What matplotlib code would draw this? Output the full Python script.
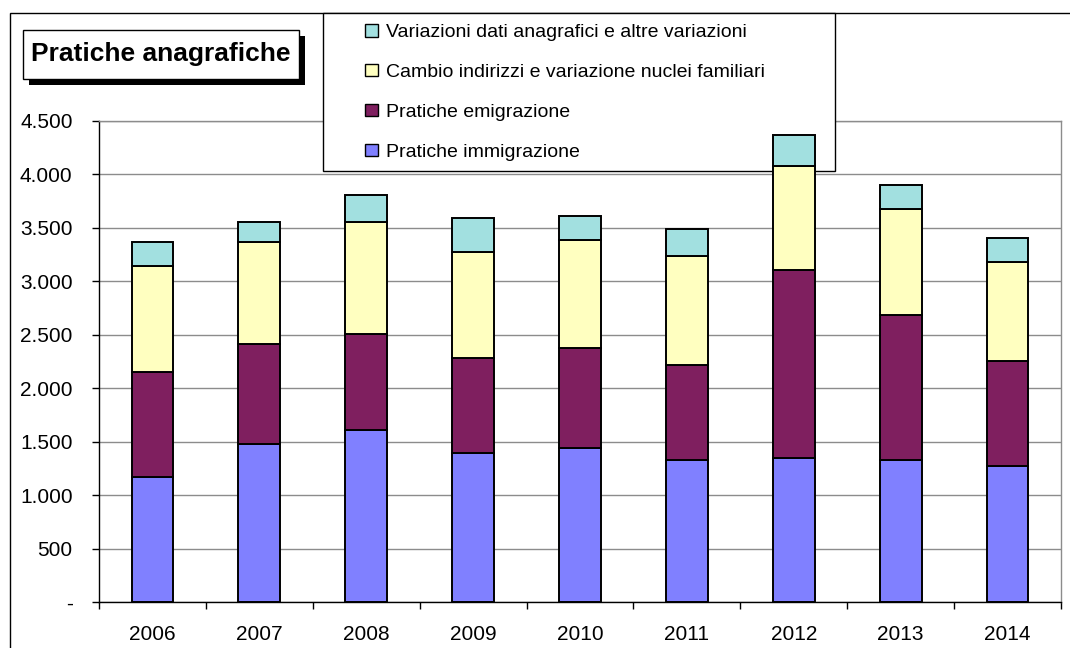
import matplotlib
matplotlib.use("Agg")
import matplotlib.pyplot as plt
from matplotlib.patches import Rectangle
from matplotlib.ticker import FixedLocator, FixedFormatter
import numpy as np

plt.rcParams['font.family'] = ['Liberation Sans', 'DejaVu Sans']

# ---- data ----
years = ['2006', '2007', '2008', '2009', '2010', '2011', '2012', '2013', '2014']
immigrazione = [1167, 1478, 1612, 1391, 1444, 1328, 1350, 1331, 1275]
emigrazione = [988, 939, 898, 895, 936, 886, 1759, 1351, 977]
cambio_indirizzi = [991, 954, 1048, 991, 1010, 1026, 973, 992, 932]
variazioni_dati = [225, 187, 250, 319, 224, 246, 284, 224, 224]

series_names = ['Pratiche immigrazione', 'Pratiche emigrazione',
                'Cambio indirizzi e variazione nuclei familiari',
                'Variazioni dati anagrafici e altre variazioni']
series_colors = ['#8080FF', '#7F1F5F', '#FFFFC0', '#A2E0E0']
title_text = 'Pratiche anagrafiche'

y_ticks = [0, 500, 1000, 1500, 2000, 2500, 3000, 3500, 4000, 4500]
y_tick_labels = ['-', '500', '1.000', '1.500', '2.000', '2.500', '3.000', '3.500', '4.000', '4.500']

# ---- figure ----
W, H = 1070, 648
fig = plt.figure(figsize=(W / 100, H / 100), dpi=100)
fig.patch.set_facecolor('white')

def fx(px):
    return px / W

def fy(py):
    return 1 - py / H

ax = fig.add_axes([fx(99), fy(602), fx(1061) - fx(99), fy(121) - fy(602)])

x = np.arange(len(years))
data = [immigrazione, emigrazione, cambio_indirizzi, variazioni_dati]
bottom = np.zeros(len(years))
containers = []
for vals, name, col in zip(data, series_names, series_colors):
    c = ax.bar(x, vals, width=0.39, bottom=bottom, color=col, edgecolor='black',
               linewidth=1.4, label=name, zorder=3)
    containers.append(c)
    bottom = bottom + np.array(vals)

ax.set_xlim(-0.5, len(years) - 0.5)
ax.set_ylim(0, 4500)

# y axis
ax.yaxis.set_major_locator(FixedLocator(y_ticks))
ax.yaxis.set_major_formatter(FixedFormatter(y_tick_labels))
ax.tick_params(axis='y', direction='out', length=5, width=1, color='black',
               labelsize=15, pad=14)
ax.grid(axis='y', color='#8c8c8c', linewidth=1.0, zorder=0.5)
ax.set_axisbelow(True)

# x axis: ticks at boundaries, labels at centres
ax.xaxis.set_major_locator(FixedLocator(np.arange(-0.5, len(years), 1.0)))
ax.xaxis.set_major_formatter(FixedFormatter([''] * (len(years) + 1)))
ax.xaxis.set_minor_locator(FixedLocator(x))
ax.xaxis.set_minor_formatter(FixedFormatter(years))
ax.tick_params(axis='x', which='major', direction='out', length=5, width=1, color='black')
ax.tick_params(axis='x', which='minor', length=0, labelsize=15, pad=16.5)

for s in ['left', 'bottom']:
    ax.spines[s].set_color('black')
    ax.spines[s].set_linewidth(1.0)
for s in ['top', 'right']:
    ax.spines[s].set_color('#8c8c8c')
    ax.spines[s].set_linewidth(1.0)

# outer chart border
fig.add_artist(Rectangle((fx(10), fy(660)), fx(1080) - fx(10), fy(13) - fy(660),
                         transform=fig.transFigure, facecolor='none',
                         edgecolor='black', linewidth=1.0, zorder=0))

# legend box (behind the bars, above the grid)
ax.add_patch(Rectangle((fx(323), fy(171)), fx(835) - fx(323), fy(13) - fy(171),
                       transform=fig.transFigure, facecolor='white',
                       edgecolor='black', linewidth=1.0, zorder=2.8, clip_on=False))

handles = containers[::-1]
labels = series_names[::-1]
leg = ax.legend(handles, labels, loc='upper left',
                bbox_to_anchor=(fx(365), fy(24)), bbox_transform=fig.transFigure,
                frameon=False, fontsize=14, handlelength=0.68, handleheight=0.62,
                handletextpad=0.42, labelspacing=1.17, borderpad=0, borderaxespad=0)
leg.set_zorder(5)
for h in leg.legend_handles:
    h.set_linewidth(1.0)

# title box with shadow
fig.add_artist(Rectangle((fx(29), fy(85)), fx(299) - fx(23), fy(30) - fy(79),
                         transform=fig.transFigure, facecolor='black',
                         edgecolor='black', linewidth=0, zorder=3))
fig.add_artist(Rectangle((fx(23), fy(79)), fx(299) - fx(23), fy(30) - fy(79),
                         transform=fig.transFigure, facecolor='white',
                         edgecolor='black', linewidth=1.0, zorder=4))
fig.text(fx(161), fy(54.5), title_text, fontsize=19, fontweight='bold',
         ha='center', va='center', zorder=5)

fig.savefig('out.png', dpi=100)
